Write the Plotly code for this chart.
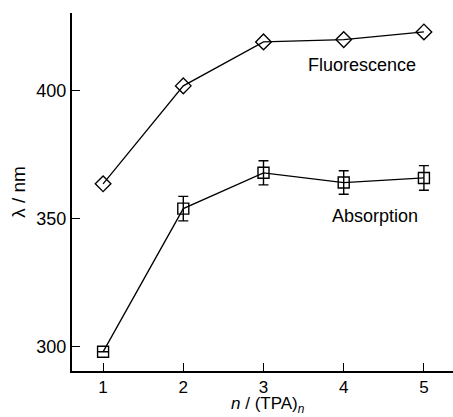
import plotly.graph_objects as go

n_values = [1, 2, 3, 4, 5]
fluorescence_nm = [363.7, 402.0, 419.2, 420.1, 423.1]
absorption_nm = [298.0, 354.0, 368.0, 364.2, 366.0]
absorption_err = [0, 4.8, 4.7, 4.6, 4.8]
x_ticks = [1, 2, 3, 4, 5]
y_ticks = [300, 350, 400]

FONT = "Liberation Sans, Arial, Helvetica, sans-serif"

fig = go.Figure()
fig.add_trace(go.Scatter(
    x=n_values, y=fluorescence_nm, mode="lines+markers",
    line=dict(color="black", width=1.3),
    marker=dict(symbol="diamond-open", size=12, color="black", line=dict(width=1.4)),
    showlegend=False,
))
fig.add_trace(go.Scatter(
    x=n_values, y=absorption_nm, mode="lines+markers",
    line=dict(color="black", width=1.3),
    marker=dict(symbol="square-open", size=11, color="black", line=dict(width=1.4)),
    error_y=dict(type="data", array=absorption_err, visible=True, color="black", thickness=1.4, width=5),
    showlegend=False,
))

fig.add_annotation(x=4.23, y=410, text="Fluorescence", showarrow=False,
                   font=dict(family=FONT, size=18, color="black"))
fig.add_annotation(x=4.39, y=351, text="Absorption", showarrow=False,
                   font=dict(family=FONT, size=18, color="black"))
# x-axis title placed just under the tick labels
fig.add_annotation(x=3.05, xref="x", y=0, yref="paper", yanchor="bottom", yshift=-46,
                   text="<i>n</i> / (TPA)<sub><i>n</i></sub>", showarrow=False, borderpad=0,
                   font=dict(family=FONT, size=17, color="black"))

fig.update_layout(
    width=453, height=417,
    margin=dict(l=72, r=0, t=13, b=46),
    paper_bgcolor="white", plot_bgcolor="white",
    font=dict(family=FONT, size=18, color="black"),
)
fig.update_xaxes(
    range=[0.6125, 5.3625], tickvals=x_ticks, ticks="inside", ticklen=8, tickwidth=1.3,
    tickcolor="black", showline=True, linecolor="black", linewidth=2, showgrid=False,
    zeroline=False, tickfont=dict(size=17),
)
fig.update_yaxes(
    range=[290.5, 430.5], tickvals=y_ticks, ticks="inside", ticklen=8, tickwidth=1.3,
    tickcolor="black", showline=True, linecolor="black", linewidth=2, showgrid=False,
    zeroline=False, tickfont=dict(size=18),
    title=dict(text="λ / nm", standoff=6, font=dict(size=19)),
)

fig.write_html("out.html", config={"displayModeBar": False},
               post_script="document.body.style.margin='0';document.body.style.overflow='hidden';")
